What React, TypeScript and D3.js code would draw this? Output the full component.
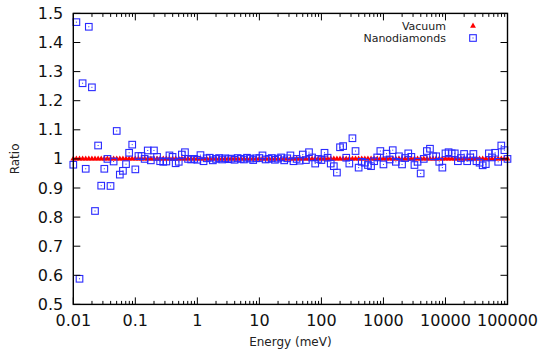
import React, { useEffect, useRef } from 'react';
import * as d3 from 'd3';

// sampling grid: 20 points per decade from 0.01 to 100000 meV
const energies: number[] = d3.range(141).map(i => 0.01 * Math.pow(10, i / 20));

const nanodiamonds: number[] = [
  0.980, 1.470, 0.588, 1.260, 0.966, 1.454, 1.246, 0.821, 1.046, 0.908,
  0.966, 1.000, 0.907, 0.991, 1.096, 0.946, 0.959, 0.982, 1.021, 1.049,
  0.964, 1.010, 1.010, 1.000, 1.029, 0.995, 1.029, 1.007, 0.992, 0.990,
  0.991, 1.012, 1.007, 0.985, 0.990, 1.015, 1.023, 1.000, 0.998, 1.000,
  0.997, 1.013, 0.992, 1.002, 1.004, 0.995, 1.000, 1.003, 0.998, 1.002,
  0.999, 1.001, 0.997, 1.003, 1.000, 0.998, 1.004, 1.001, 0.996, 1.002,
  1.003, 1.012, 0.998, 1.000, 1.003, 0.997, 1.001, 1.005, 0.995, 1.002,
  1.012, 0.992, 1.000, 0.994, 1.015, 0.996, 1.023, 1.005, 0.984, 1.000,
  0.996, 1.021, 1.004, 0.984, 0.975, 0.953, 1.040, 1.044, 1.004, 0.984,
  1.071, 1.027, 0.970, 0.990, 0.987, 0.979, 0.975, 0.992, 1.005, 1.027,
  0.981, 1.018, 0.998, 1.030, 0.990, 1.009, 0.981, 1.003, 1.019, 1.007,
  0.979, 0.990, 0.950, 1.000, 1.027, 1.035, 1.009, 1.009, 0.990, 0.970,
  1.019, 1.023, 1.019, 1.019, 0.992, 1.003, 1.017, 0.992, 1.005, 1.017,
  0.992, 0.987, 0.978, 0.982, 1.019, 1.005, 1.021, 0.990, 1.046, 1.030,
  1.000,
];

// vacuum ratio is exactly 1 at every energy
const vacuum: number[] = energies.map(() => 1.0);

const xTicks = [0.01, 0.1, 1, 10, 100, 1000, 10000, 100000];
const xTickLabels = ['0.01', '0.1', '1', '10', '100', '1000', '10000', '100000'];
const yTicks = [0.5, 0.6, 0.7, 0.8, 0.9, 1.0, 1.1, 1.2, 1.3, 1.4, 1.5];
const yTickLabels = ['0.5', '0.6', '0.7', '0.8', '0.9', '1', '1.1', '1.2', '1.3', '1.4', '1.5'];

const W = 539;
const H = 351;
const FONT = 'DejaVu Sans, sans-serif';

const App: React.FC = () => {
  const svgRef = useRef<SVGSVGElement>(null);

  useEffect(() => {
    if (!svgRef.current) return;
    const svg = d3.select(svgRef.current);
    svg.selectAll('*').remove();

    const left = 73.3, right = 507.5, top = 13.4, bottom = 304.4;

    const x = d3.scaleLog().domain([0.01, 100000]).range([left, right]);
    const y = d3.scaleLinear().domain([0.5, 1.5]).range([bottom, top]);

    svg.append('rect').attr('width', W).attr('height', H).attr('fill', 'white');

    // Vacuum: small filled red triangles
    const tri = d3.symbol().type(d3.symbolTriangle).size(15);
    svg.append('g')
      .selectAll('path')
      .data(vacuum)
      .join('path')
      .attr('d', tri)
      .attr('transform', (d, i) => `translate(${x(energies[i])},${y(d)})`)
      .attr('fill', '#ff0000');

    // Nanodiamonds: open blue squares with a centre dot
    const nd = svg.append('g');
    nanodiamonds.forEach((v, i) => {
      const cx = x(energies[i]);
      const cy = y(v);
      nd.append('rect')
        .attr('x', cx - 3.3).attr('y', cy - 3.3)
        .attr('width', 6.6).attr('height', 6.6)
        .attr('fill', 'none')
        .attr('stroke', '#2a2aff')
        .attr('stroke-width', 1.1);
      nd.append('rect')
        .attr('x', cx - 0.5).attr('y', cy - 0.5)
        .attr('width', 1).attr('height', 1)
        .attr('fill', '#2a2aff');
    });

    // ticks (mirrored on all sides, pointing inward)
    const ticks = svg.append('g').attr('stroke', 'black').attr('stroke-width', 1);
    yTicks.forEach(t => {
      ticks.append('line').attr('x1', left).attr('x2', left + 7).attr('y1', y(t)).attr('y2', y(t));
      ticks.append('line').attr('x1', right).attr('x2', right - 7).attr('y1', y(t)).attr('y2', y(t));
    });
    xTicks.forEach(t => {
      ticks.append('line').attr('x1', x(t)).attr('x2', x(t)).attr('y1', bottom).attr('y2', bottom - 7);
      ticks.append('line').attr('x1', x(t)).attr('x2', x(t)).attr('y1', top).attr('y2', top + 7);
    });
    xTicks.slice(0, -1).forEach(t => {
      d3.range(2, 10).forEach(m => {
        const xm = x(t * m);
        ticks.append('line').attr('x1', xm).attr('x2', xm).attr('y1', bottom).attr('y2', bottom - 3.5);
        ticks.append('line').attr('x1', xm).attr('x2', xm).attr('y1', top).attr('y2', top + 3.5);
      });
    });

    // border
    svg.append('rect')
      .attr('x', left).attr('y', top)
      .attr('width', right - left).attr('height', bottom - top)
      .attr('fill', 'none')
      .attr('stroke', 'black')
      .attr('stroke-width', 1.4);

    // tick labels
    yTicks.forEach((t, i) => {
      svg.append('text')
        .attr('x', left - 10)
        .attr('y', y(t) + 5.5)
        .attr('text-anchor', 'end')
        .attr('font-family', FONT)
        .attr('font-size', 16)
        .attr('fill', '#111')
        .text(yTickLabels[i]);
    });
    xTicks.forEach((t, i) => {
      svg.append('text')
        .attr('x', x(t))
        .attr('y', 326)
        .attr('text-anchor', 'middle')
        .attr('font-family', FONT)
        .attr('font-size', 16)
        .attr('fill', '#111')
        .text(xTickLabels[i]);
    });

    // axis titles
    svg.append('text')
      .attr('x', (left + right) / 2)
      .attr('y', 346)
      .attr('text-anchor', 'middle')
      .attr('font-family', FONT)
      .attr('font-size', 12)
      .attr('fill', '#222')
      .text('Energy (meV)');
    svg.append('text')
      .attr('transform', `translate(19,${y(1.0)}) rotate(-90)`)
      .attr('text-anchor', 'middle')
      .attr('font-family', FONT)
      .attr('font-size', 12)
      .attr('fill', '#222')
      .text('Ratio');

    // legend
    const legend = svg.append('g');
    const rows = [
      { label: 'Vacuum', y: 26 },
      { label: 'Nanodiamonds', y: 38 },
    ];
    rows.forEach((r, i) => {
      legend.append('text')
        .attr('x', 446)
        .attr('y', r.y + 4)
        .attr('text-anchor', 'end')
        .attr('font-family', FONT)
        .attr('font-size', 11)
        .attr('fill', '#222')
        .text(r.label);
      if (i === 0) {
        legend.append('path')
          .attr('d', tri)
          .attr('transform', `translate(473,${r.y})`)
          .attr('fill', '#ff0000');
      } else {
        legend.append('rect')
          .attr('x', 473 - 3.3).attr('y', r.y - 3.3)
          .attr('width', 6.6).attr('height', 6.6)
          .attr('fill', 'none')
          .attr('stroke', '#2a2aff')
          .attr('stroke-width', 1.1);
        legend.append('rect')
          .attr('x', 472.5).attr('y', r.y - 0.5)
          .attr('width', 1).attr('height', 1)
          .attr('fill', '#2a2aff');
      }
    });
  }, []);

  return (
    <svg
      ref={svgRef}
      width={W}
      height={H}
      style={{ position: 'absolute', left: 0, top: 0, display: 'block' }}
    />
  );
};

export default App;
